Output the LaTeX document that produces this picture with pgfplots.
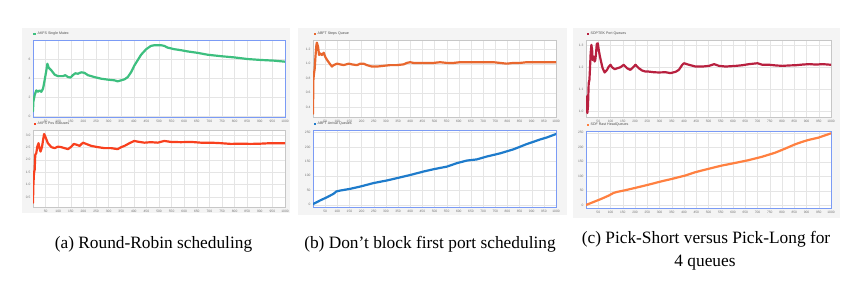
\documentclass[border=0pt]{standalone}
\usepackage{fontspec}
\usepackage{pgfplots}
\pgfplotsset{compat=1.18}
\newfontfamily\uifont{Liberation Sans}
\newfontfamily\capfont{Liberation Serif}
\definecolor{cgreen}{HTML}{3DBF7F}
\definecolor{cred}{HTML}{F8401E}
\definecolor{corange}{HTML}{E8672E}
\definecolor{cblue}{HTML}{1E7BCB}
\definecolor{ccrimson}{HTML}{B8203F}
\definecolor{ccoral}{HTML}{FF8040}
\definecolor{selblue}{HTML}{7B9BF5}
\definecolor{panelbg}{HTML}{F4F4F4}
\pgfplotsset{
  legend image code/.code={\fill[#1,draw=none] (0bp,-1.1bp) rectangle (2.2bp,1.1bp);},
  panel/.style={scale only axis, width=#1, height=77bp,
    xmin=0, xmax=1000, xtick={50,100,...,1000},
    grid=major, major grid style={draw=black!10, line width=0.3pt},
    tick style={draw=none}, major tick length=0pt,
    ticklabel style={font=\uifont\fontsize{3.3}{4}\selectfont, text=black!55},
    /pgf/number format/assume math mode=true,
    /pgf/number format/set thousands separator={},
    xticklabel style={yshift=0.5bp},
    yticklabel style={xshift=1bp},
    axis line style={draw=black!22, line width=0.5pt},
    axis background/.style={fill=white},
    legend style={at={(0,1)}, anchor=south west, draw=none, fill=none, inner sep=0.3bp,
      font=\uifont\fontsize{3.6}{4}\selectfont, text=black!70, yshift=1.5bp},
    legend cell align=left,
    every axis plot/.append style={line width=2.2pt, line join=round, line cap=round}},
  sel/.style={axis line style={draw=selblue, line width=0.7pt}},
  onedec/.style={yticklabel style={/pgf/number format/.cd, fixed, fixed zerofill, precision=1}}
}
\begin{document}
\begin{tikzpicture}
\fill[white] (0bp,0bp) rectangle (857bp,284bp);
\fill[panelbg] (22bp,71bp) rectangle (290bp,256bp);
\fill[panelbg] (298bp,69bp) rectangle (567bp,256bp);
\fill[panelbg] (573bp,66bp) rectangle (840bp,256bp);

% (a) top
\begin{axis}[panel=252bp, sel, at={(33bp,167bp)}, anchor=south west, ymin=-0.1, ymax=8, ytick={0,2,4,6}]
\addplot[cgreen] coordinates {(0,0.5) (1.3,1.5) (6.6,2.2) (13,2.7) (20,2.55) (26,2.7) (33,2.55) (40,2.9) (46,3.75) (53,4.8) (57,5.5) (62,5.1) (73,4.8) (86,4.35) (99,4.2) (119,4.2) (128,4.3) (139,4.1) (149,4.05) (158,4.3) (168,4.5) (178,4.45) (191,4.6) (204,4.55) (218,4.3) (244,4.1) (270,3.93) (297,3.83) (323,3.76) (336,3.65) (350,3.76) (363,3.86) (376,4.1) (389,4.6) (402,5.3) (416,5.9) (429,6.45) (449,7.03) (468,7.38) (482,7.45) (508,7.45) (521,7.38) (534,7.2) (561,7.03) (587,6.93) (613,6.8) (653,6.65) (693,6.45) (745,6.3) (798,6.17) (851,6.0) (904,5.9) (956,5.83) (1000,5.72)};
\addlegendentry{AKFS Single Mutex}
\end{axis}

% (a) bottom
\begin{axis}[panel=252bp, at={(33bp,77bp)}, anchor=south west, ymin=0.1, ymax=3.2, ytick={0.5,1,...,3}, onedec]
\addplot[cred] coordinates {(0,0.27) (1.3,0.93) (4,1.47) (6.6,1.6) (9,2.2) (13,2.27) (17,2.53) (22,2.67) (26,2.47) (30,2.33) (36,2.53) (40,2.8) (44,3.04) (49,2.93) (59,2.67) (73,2.51) (86,2.47) (99,2.53) (112,2.51) (125,2.47) (139,2.43) (152,2.53) (162,2.64) (175,2.6) (185,2.56) (198,2.69) (211,2.64) (231,2.56) (257,2.51) (284,2.47) (310,2.47) (336,2.43) (350,2.51) (363,2.56) (383,2.67) (402,2.76) (416,2.73) (442,2.69) (468,2.71) (495,2.69) (521,2.76) (547,2.72) (587,2.71) (627,2.72) (666,2.69) (706,2.69) (745,2.67) (785,2.64) (825,2.65) (864,2.64) (904,2.65) (943,2.67) (1000,2.67)};
\addlegendentry{AKFS Pos Statuses}
\end{axis}

% (b) top
\begin{axis}[panel=243bp, at={(313bp,167bp)}, anchor=south west, ymin=0.265, ymax=1.326, ytick={0.4,0.6,...,1.2}, onedec]
\addplot[corange] coordinates {(0,0.31) (1.4,0.77) (4,0.86) (7,0.93) (10,1.09) (14,1.26) (16,1.29) (21,1.23) (25,1.12) (30,1.14) (37,1.12) (44,1.15) (51,1.09) (58,1.05) (71,0.99) (78,0.96) (85,0.98) (99,1.0) (112,0.99) (126,0.98) (147,1.0) (160,0.99) (181,0.98) (195,1.0) (208,1.0) (222,0.98) (242,0.96) (263,0.96) (290,0.97) (318,0.98) (345,0.98) (373,0.99) (386,1.01) (400,1.02) (414,1.01) (441,1.01) (468,1.01) (496,1.01) (523,1.02) (551,1.01) (578,1.01) (605,1.02) (633,1.02) (660,1.02) (688,1.02) (715,1.02) (742,1.02) (770,1.01) (797,1.0) (825,1.01) (852,1.01) (879,1.02) (907,1.02) (934,1.02) (962,1.02) (1000,1.02)};
\addlegendentry{ABFT Steps Queue}
\end{axis}

% (b) bottom
\begin{axis}[panel=243bp, sel, at={(313bp,77bp)}, anchor=south west, ymin=-8, ymax=259, ytick={0,50,...,250}]
\addplot[cblue] coordinates {(0,1) (3,3.4) (30,15) (58,26) (85,38) (96,46) (112,49) (153,55) (195,63) (249,75) (304,84) (345,92) (400,103) (455,115) (496,123) (551,132) (592,144) (633,153) (674,157) (715,167) (770,178) (825,192) (879,210) (907,218) (934,226) (962,233) (1000,245)};
\addlegendentry{ABFT Arrival Queues}
\end{axis}

% (c) top
\begin{axis}[panel=245bp, at={(586bp,167bp)}, anchor=south west, ymin=0.973, ymax=1.324, ytick={1.0,1.1,1.2,1.3}, onedec]
\addplot[ccrimson] coordinates {(1.4,1.067) (4,1.052) (5.5,0.991) (8,1.021) (11,1.127) (14,1.142) (16,1.188) (19,1.264) (22,1.302) (25,1.279) (27,1.233) (31,1.248) (35,1.226) (38,1.233) (41,1.264) (44,1.306) (48,1.309) (52,1.279) (57,1.248) (63,1.218) (68,1.195) (76,1.176) (86,1.188) (93,1.203) (100,1.211) (106,1.2) (117,1.191) (127,1.195) (141,1.2) (154,1.211) (168,1.195) (181,1.188) (188,1.195) (202,1.211) (216,1.195) (229,1.185) (243,1.180) (256,1.180) (277,1.177) (297,1.176) (325,1.177) (345,1.173) (366,1.179) (379,1.188) (393,1.211) (400,1.218) (420,1.211) (447,1.203) (475,1.203) (502,1.206) (523,1.214) (543,1.206) (570,1.203) (611,1.206) (638,1.209) (666,1.214) (700,1.218) (720,1.211) (748,1.211) (775,1.208) (802,1.206) (829,1.208) (857,1.209) (884,1.212) (911,1.214) (939,1.212) (966,1.214) (1000,1.211)};
\addlegendentry{SDPTEK Port Queues}
\end{axis}

% (c) bottom
\begin{axis}[panel=245bp, sel, at={(586bp,76bp)}, anchor=south west, ymin=-9, ymax=256, ytick={0,50,...,250}]
\addplot[ccoral] coordinates {(0,1) (3,2.3) (37,13.8) (64,23) (91,33) (112,42.6) (125,46) (159,52) (200,60) (254,71) (309,83) (350,91) (404,102.5) (445,114) (499,125.6) (554,137) (608,146) (663,155.5) (717,167) (771,181) (812,195) (853,210) (880,218) (907,225) (948,233) (1000,248)};
\addlegendentry{SDF Rast HeadQueues}
\end{axis}

\node[anchor=base, font=\capfont\fontsize{17.4}{21}\selectfont] at (153.5bp,36bp) {(a) Round-Robin scheduling};
\node[anchor=base, font=\capfont\fontsize{17.4}{21}\selectfont] at (430bp,36bp) {(b) Don’t block first port scheduling};
\node[anchor=base, font=\capfont\fontsize{17.4}{21}\selectfont] at (706bp,40bp) {(c) Pick-Short versus Pick-Long for};
\node[anchor=base, font=\capfont\fontsize{17.4}{21}\selectfont] at (705bp,18bp) {4 queues};
\end{tikzpicture}
\end{document}
